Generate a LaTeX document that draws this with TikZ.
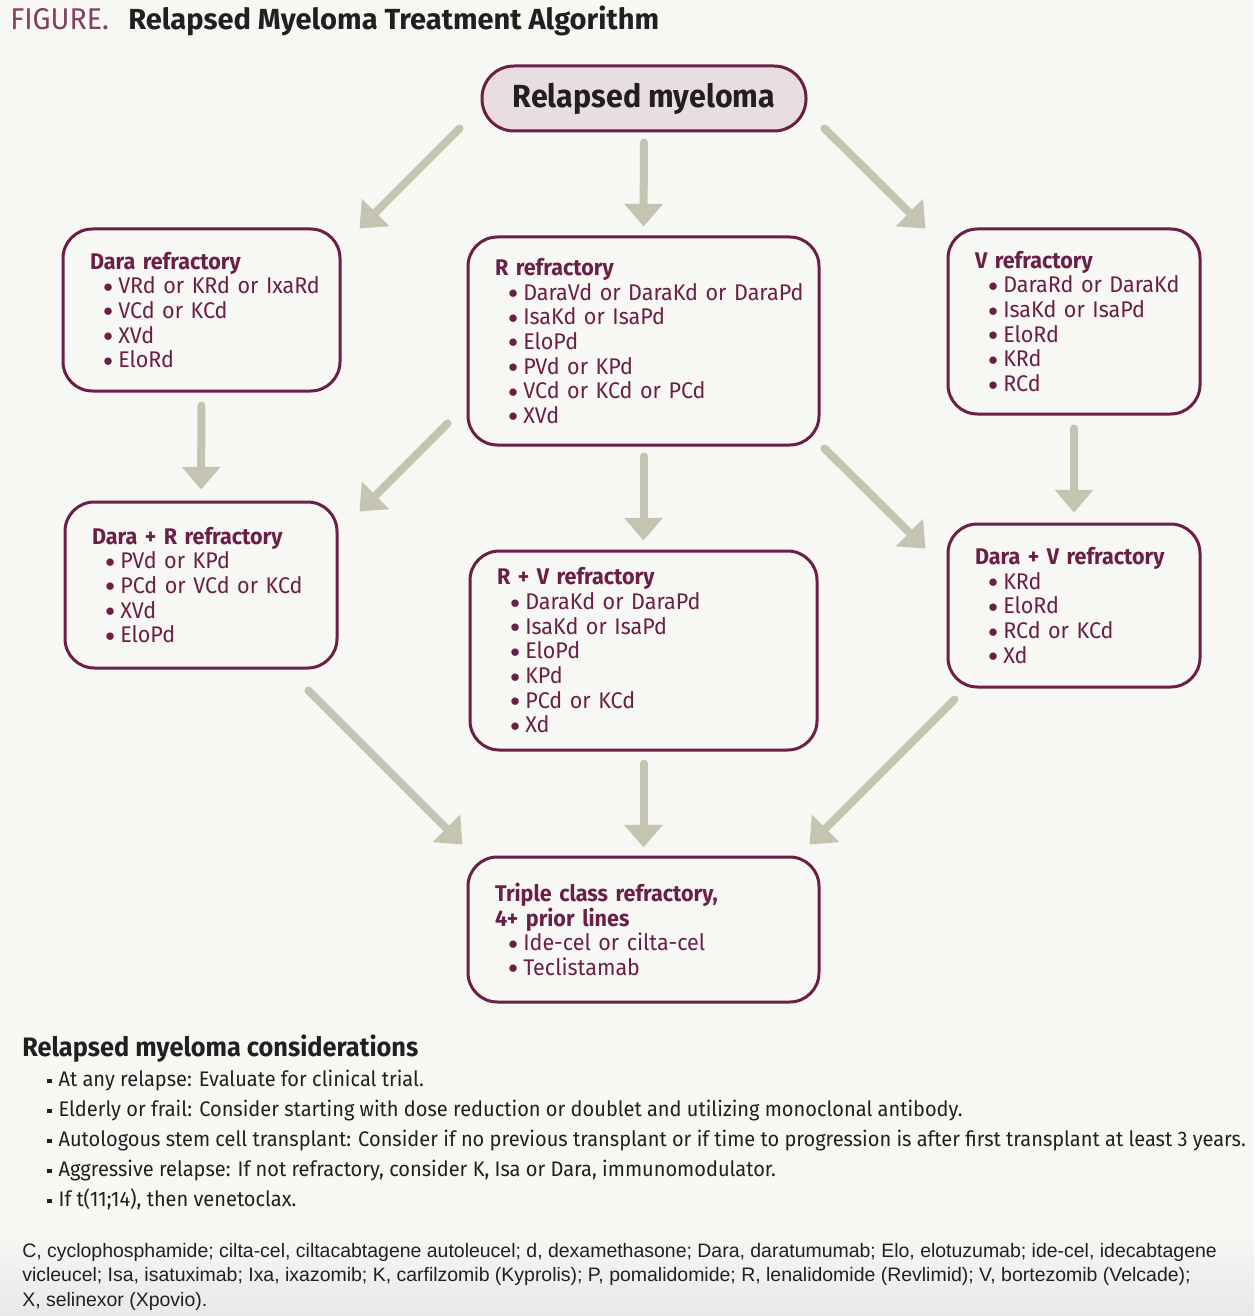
\documentclass[tikz,border=0pt]{standalone}
\usepackage{fontspec}
\setmainfont{Fira Sans}[FakeStretch=0.95]
\newfontfamily\headfont{Fira Sans}
\newfontfamily\notefont{Liberation Sans}
\usepackage{xcolor}
\usepackage{tikz}
\usetikzlibrary{arrows.meta, positioning, calc}

\definecolor{bgc}{HTML}{F7F7F4}
\definecolor{plum}{HTML}{6B1E46}
\definecolor{blush}{HTML}{E8DDE0}
\definecolor{sage}{HTML}{C4C4B1}
\definecolor{ink}{HTML}{231F20}

\newcommand\ttl[1]{\mbox{\bfseries #1}}
\newcommand\itm[1]{\mbox{\hspace*{10pt}\raisebox{1.2pt}{\fontsize{14}{14}\selectfont$\bullet$}\hspace{4pt}#1}}
\newcommand\sqb{\raisebox{0.25ex}{\rule{3.5pt}{3.5pt}}\hspace{5pt}}

\begin{document}
\begin{tikzpicture}[
      x=0.75pt, y=-0.75pt,
      box/.style={draw=plum, line width=2.25pt, rounded corners=22pt, fill=bgc, text=plum,
        align=left, inner xsep=20.25pt, inner ysep=0pt, font=\fontsize{17}{18.5}\selectfont},
      start/.style={draw=plum, line width=2.25pt, rounded corners=24pt, fill=blush, text=ink,
        minimum width=243pt, minimum height=48.75pt, font=\fontsize{24}{27}\selectfont\bfseries},
      flow/.style={draw=sage, line width=6pt, line cap=round, -{Triangle[width=28pt,length=17pt]}},
      note/.style={anchor=base west, inner sep=0pt, text=ink}
    ]
    % Page
    \path[fill=bgc, use as bounding box] (0,0) rectangle (1254,1316);
    \shade[top color=bgc, bottom color=black!9] (0,1230) rectangle (1254,1316);

    % Title
    \node[note, text=plum!85, font=\fontsize{22.5}{26}\selectfont] (fig) at (10,30) {FIGURE.};
    \node[note, font=\fontsize{21.8}{26}\headfont\bfseries] (title) at (128,30) {Relapsed Myeloma Treatment Algorithm};

    % Boxes
    \node[start] (top) at (644,98.5) {Relapsed myeloma};
    \node[box, text width=167.25pt, minimum height=121.5pt] (dara) at (201.5,310) {%
      \ttl{Dara refractory}\\ \itm{VRd or KRd or IxaRd}\\ \itm{VCd or KCd}\\ \itm{XVd}\\ \itm{EloRd}};
    \node[box, text width=222.75pt, minimum height=156pt] (rref) at (643.5,341) {%
      \ttl{R refractory}\\ \itm{DaraVd or DaraKd or DaraPd}\\ \itm{IsaKd or IsaPd}\\ \itm{EloPd}\\
      \itm{PVd or KPd}\\ \itm{VCd or KCd or PCd}\\ \itm{XVd}};
    \node[box, text width=148.5pt, minimum height=138.75pt] (vref) at (1074,321.5) {%
      \ttl{V refractory}\\ \itm{DaraRd or DaraKd}\\ \itm{IsaKd or IsaPd}\\ \itm{EloRd}\\ \itm{KRd}\\ \itm{RCd}};
    \node[box, text width=163.5pt, minimum height=124.5pt] (darar) at (201,585) {%
      \ttl{Dara + R refractory}\\ \itm{PVd or KPd}\\ \itm{PCd or VCd or KCd}\\ \itm{XVd}\\ \itm{EloPd}};
    \node[box, text width=219.75pt, minimum height=149.25pt] (rv) at (643.5,650.5) {%
      \ttl{R + V refractory}\\ \itm{DaraKd or DaraPd}\\ \itm{IsaKd or IsaPd}\\ \itm{EloPd}\\ \itm{KPd}\\
      \itm{PCd or KCd}\\ \itm{Xd}};
    \node[box, text width=148.5pt, minimum height=122.25pt] (darav) at (1074,605.5) {%
      \ttl{Dara + V refractory}\\ \itm{KRd}\\ \itm{EloRd}\\ \itm{RCd or KCd}\\ \itm{Xd}};
    \node[box, text width=222.75pt, minimum height=108.75pt] (triple) at (643.5,929.5) {%
      \ttl{Triple class refractory,}\\ \ttl{4+ prior lines}\\ \itm{Ide-cel or cilta-cel}\\ \itm{Teclistamab}};

    % Arrows
    \draw[flow] ([shift={(-21,-4)}]top.south west) -- ([shift={(18,1)}]dara.north east);
    \draw[flow, shorten <=7.5pt, shorten >=6.75pt] (top.south) -- (rref.north);
    \draw[flow] ([shift={(17,-4)}]top.south east) -- ([shift={(-21,1)}]vref.north west);
    \draw[flow, shorten <=9.75pt, shorten >=8.25pt] (dara.south) -- (darar.north);
    \draw[flow] ([shift={(-19,-23)}]rref.south west) -- ([shift={(21,11)}]darar.north east);
    \draw[flow, shorten <=7.5pt, shorten >=6.75pt] (rref.south) -- (rv.north);
    \draw[flow] ([shift={(4,2)}]rref.south east) -- ([shift={(-21,26)}]darav.north west);
    \draw[flow, shorten <=9.75pt, shorten >=7.5pt] (vref.south) -- (darav.north);
    \draw[flow] ([shift={(-30,21)}]darar.south east) -- ([shift={(-4,-11)}]triple.north west);
    \draw[flow, shorten <=9pt, shorten >=6pt] (rv.south) -- (triple.north);
    \draw[flow] ([shift={(8,11)}]darav.south west) -- ([shift={(-11,-11)}]triple.north east);

    % Considerations
    \node[note, font=\fontsize{20}{24}\selectfont\bfseries] (cons) at (22,1056) {Relapsed myeloma considerations};
    \node[note, font=\fontsize{15.8}{19}\selectfont] (c1) at (47,1086) {\sqb At any relapse: Evaluate for clinical trial.};
    \node[note, font=\fontsize{15.8}{19}\selectfont] (c2) at (47,1116) {\sqb Elderly or frail: Consider starting with dose reduction or doublet and utilizing monoclonal antibody.};
    \node[note, font=\fontsize{15.8}{19}\selectfont] (c3) at (47,1146) {\sqb Autologous stem cell transplant: Consider if no previous transplant or if time to progression is after first transplant at least 3 years.};
    \node[note, font=\fontsize{15.8}{19}\selectfont] (c4) at (47,1176) {\sqb Aggressive relapse: If not refractory, consider K, Isa or Dara, immunomodulator.};
    \node[note, font=\fontsize{15.8}{19}\selectfont] (c5) at (47,1206) {\sqb If t(11;14), then venetoclax.};

    % Abbreviations
    \node[note, font=\fontsize{14.6}{17}\notefont] (fn1) at (22,1257) {C, cyclophosphamide; cilta-cel, ciltacabtagene autoleucel; d, dexamethasone; Dara, daratumumab; Elo, elotuzumab; ide-cel, idecabtagene};
    \node[note, font=\fontsize{14.6}{17}\notefont] (fn2) at (22,1281.5) {vicleucel; Isa, isatuximab; Ixa, ixazomib; K, carfilzomib (Kyprolis); P, pomalidomide; R, lenalidomide (Revlimid); V, bortezomib (Velcade);};
    \node[note, font=\fontsize{14.6}{17}\notefont] (fn3) at (22,1306) {X, selinexor (Xpovio).};
  \end{tikzpicture}
\end{document}
